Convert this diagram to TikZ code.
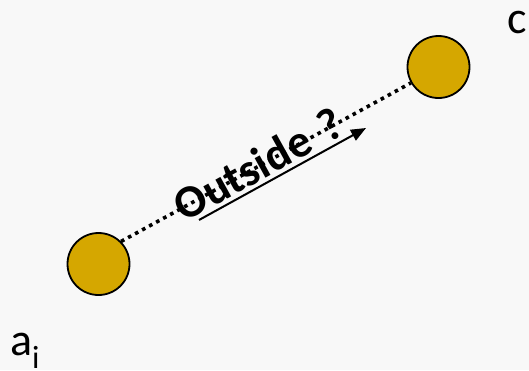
\documentclass[tikz,border=0pt]{standalone}
\usepackage{fontspec}
\setmainfont{Carlito}
\usetikzlibrary{arrows.meta}
\definecolor{bg}{RGB}{248,248,248}
\definecolor{gold}{RGB}{213,167,0}
\tikzset{
  ball/.style={circle,draw=black,line width=1.8pt,fill=gold,minimum size=62pt,inner sep=0pt},
  dotline/.style={line width=3.6pt,dash pattern=on 3.6pt off 4.4pt},
  lbl/.style={font=\fontsize{46}{50}\selectfont,inner sep=0pt}
}
\begin{document}
\begin{tikzpicture}[x=1pt,y=-1pt]
\fill[bg] (0,0) rectangle (529,370);
\useasboundingbox (0,0) rectangle (529,370);
\node[ball] (a) at (98.5,264) {};
\node[ball] (c) at (438.5,67) {};
\draw[dotline] (a.45) -- (c.210);
\node[font=\fontsize{46}{50}\selectfont\bfseries,rotate=29,inner sep=0pt] (t) at (258,164) {Outside\hspace{4pt} ?};
\coordinate (s) at (199,220);
\coordinate (e) at (366,128);
\draw[line width=2pt,-{Triangle[length=15pt,width=12pt]}] (s) -- (e);
\node[lbl,anchor=base west] (cl) at (507,33) {c};
\node[lbl,anchor=base west] (al) at (10,355) {a\textsubscript{i}};
\end{tikzpicture}
\end{document}
